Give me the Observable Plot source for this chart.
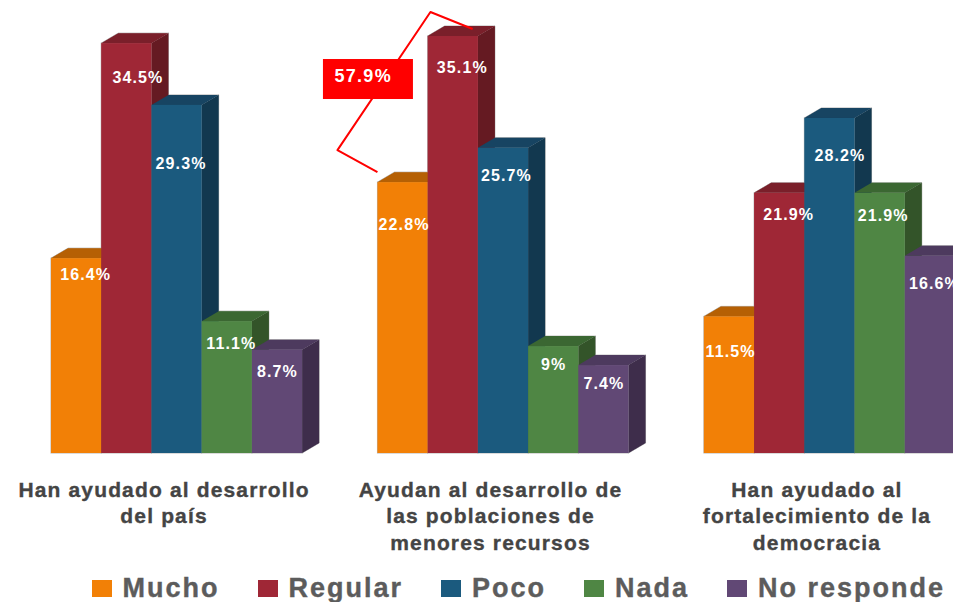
<!DOCTYPE html>
<html lang="es">
<head>
<meta charset="utf-8">
<script src="https://cdn.jsdelivr.net/npm/d3@7"></script>
<script src="https://cdn.jsdelivr.net/npm/@observablehq/plot@0.6"></script>
<style>
html,body{margin:0;padding:0;background:#fff;overflow:hidden}
#chart svg{display:block}
#legend{display:flex;gap:38px;padding-left:91.5px;height:32px;align-items:center;font:bold 27px "Liberation Sans",sans-serif;letter-spacing:2px;color:#5c5c5c;white-space:nowrap;-webkit-text-stroke:0.4px #5c5c5c;position:relative;top:2px}
#legend span.item{display:inline-flex;align-items:center;gap:11px}
#legend i{display:inline-block;width:20px;height:17px;-webkit-text-stroke:0}
.val text{letter-spacing:1.1px}
.cat text{letter-spacing:1.15px;stroke:#444;stroke-width:0.35px}
</style>
</head>
<body>
<div id="chart"></div>
<div id="legend"></div>
<script>
const groups = [
  "Han ayudado al desarrollo\ndel país",
  "Ayudan al desarrollo de\nlas poblaciones de\nmenores recursos",
  "Han ayudado al\nfortalecimiento de la\ndemocracia"
];
const series = ["Mucho", "Regular", "Poco", "Nada", "No responde"];
const mucho = [16.4, 22.8, 11.5];
const regular = [34.5, 35.1, 21.9];
const poco = [29.3, 25.7, 28.2];
const nada = [11.1, 9, 21.9];
const noResponde = [8.7, 7.4, 16.6];
const seriesValues = [mucho, regular, poco, nada, noResponde];

// Appearance and layout, separate from the data
const frontColors = ["#f28006", "#9f2736", "#1b5a7e", "#4f8644", "#614875"];
const topColors   = ["#b56004", "#7a1f2a", "#174462", "#3b6732", "#4d3a5e"];
const sideColors  = ["#a05503", "#651a22", "#12384f", "#335429", "#3e2d4b"];
const groupStep = 6.5, depthX = 17, depthY = 10;
const labelDx = [[9, 11, 4, 4, 0], [1, 9, 3, 0, 0], [1, 9, 10, 3, 4]];
const labelDy = [[16, 34, 58, 22, 22], [42, 31, 28, 18, 18], [35, 22, 37, 23, 28]];

const rows = [];
groups.forEach((g, gi) => series.forEach((s, si) => rows.push({
  group: g, gi, series: s, si, value: seriesValues[si][gi], slot: gi * groupStep + si
})));

function bar3d(d, outline) {
  const edge = outline ? {stroke: "#b5b5b5", strokeWidth: 1} : {};
  return Plot.rect([d], {
    x1: "slot", x2: r => r.slot + 1, y1: () => 0, y2: "value",
    fill: frontColors[d.si], ...edge,
    render(index, scales, values, dimensions, context, next) {
      const g = next(index, scales, values, dimensions, context);
      const x1 = values.x1[0], x2 = values.x2[0], y1 = values.y1[0], y2 = values.y2[0];
      const l = Math.min(x1, x2), r = Math.max(x1, x2), t = Math.min(y1, y2), b = Math.max(y1, y2);
      const poly = (pts, fill) => {
        const p = document.createElementNS("http://www.w3.org/2000/svg", "polygon");
        p.setAttribute("points", pts.map(q => q.join(",")).join(" "));
        p.setAttribute("fill", fill);
        if (outline) { p.setAttribute("stroke", "#b5b5b5"); p.setAttribute("stroke-width", 1); }
        g.insertBefore(p, g.firstChild);
      };
      poly([[l, t], [r, t], [r + depthX, t - depthY], [l + depthX, t - depthY]], topColors[d.si]);
      poly([[r, t], [r + depthX, t - depthY], [r + depthX, b - depthY], [r, b]], sideColors[d.si]);
      return g;
    }
  });
}

const second = rows.filter(d => d.gi === 1 && d.si < 2);
const sum = d3.format(".1f")(d3.sum(second, d => d.value));

const bracket = Plot.line(second, {
  x: d => d.slot, y: "value", stroke: "none",
  render(index, scales, values, dimensions, context) {
    const [x0, x1] = values.x, [y0, y1] = values.y;
    const g = d3.create("svg:g");
    const a = [x0, y0 - 10], b = [x0 - 40, y0 - 32], c = [x0 + 53, y1 - 24], e = [x1 + 45, y1 - 7];
    g.append("path").attr("d", `M${a}L${b}L${c}L${e}`).attr("fill", "none")
      .attr("stroke", "#ff0000").attr("stroke-width", 2).attr("stroke-linejoin", "round");
    g.append("rect").attr("x", x0 - 54.5).attr("y", y1 + 23).attr("width", 90).attr("height", 40).attr("fill", "#ff0000");
    g.append("text").attr("x", x0 - 43).attr("y", y1 + 46).attr("fill", "#fff").attr("text-anchor", "start")
      .attr("font-family", "Liberation Sans, sans-serif").attr("font-weight", "bold")
      .attr("font-size", 18).attr("letter-spacing", 1.3).text(sum + "%");
    return g.node();
  }
});

const chart = Plot.plot({
  width: 953,
  height: 570,
  margin: 0,
  style: {background: "#fff"},
  x: {type: "linear", domain: [0, 2 * groupStep + series.length], range: [51, 955], axis: null},
  y: {type: "linear", domain: [0, 38], range: [453, 453 - 38 * 11.88], axis: null},
  marks: [
    ...rows.map(d => bar3d(d, true)),
    ...rows.map(d => bar3d(d, false)),
    ...rows.map(d => Plot.text([d], {
      x: r => r.slot + 0.5, y: "value",
      text: r => r.value + "%",
      dx: labelDx[d.gi][d.si], dy: labelDy[d.gi][d.si],
      fill: "#fff", fontWeight: "bold", fontSize: 16,
      fontFamily: "Liberation Sans, sans-serif",
      className: "val"
    })),
    bracket,
    Plot.text(groups, {
      x: (g, i) => i * groupStep + series.length / 2,
      y: () => 0, text: g => g,
      dx: -13, dy: 24.5, lineAnchor: "top", textAnchor: "middle",
      lineHeight: 1.26,
      fill: "#444", fontWeight: "bold", fontSize: 21,
      fontFamily: "Liberation Sans, sans-serif",
      className: "cat"
    })
  ]
});
document.getElementById("chart").append(chart);

const legend = d3.select("#legend");
series.forEach((s, i) => {
  const it = legend.append("span").attr("class", "item");
  it.append("i").style("background", frontColors[i]);
  it.append("span").text(s);
});
</script>
</body>
</html>
